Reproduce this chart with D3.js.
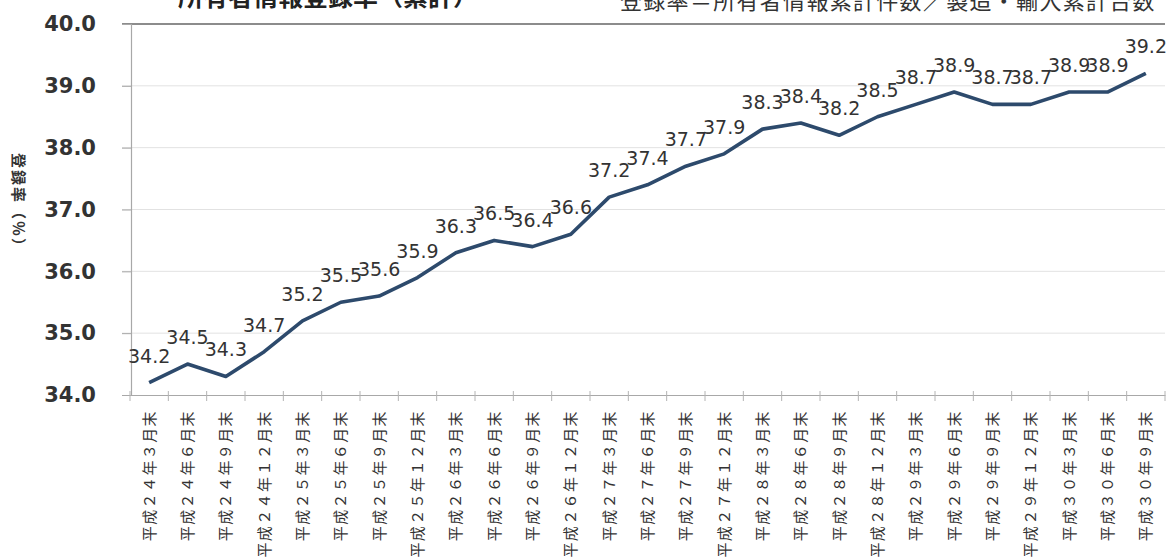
<!DOCTYPE html>
<html>
<head>
<meta charset="utf-8">
<script src="https://cdn.jsdelivr.net/npm/d3@7"></script>
<style>
  html, body { margin: 0; padding: 0; background: #fff; }
  svg { display: block; }
</style>
</head>
<body>
<svg id="chart" width="1173" height="557"></svg>
<script>
// Quarter-end periods
const categories = [
  "平成２４年３月末", "平成２４年６月末", "平成２４年９月末", "平成２４年１２月末",
  "平成２５年３月末", "平成２５年６月末", "平成２５年９月末", "平成２５年１２月末",
  "平成２６年３月末", "平成２６年６月末", "平成２６年９月末", "平成２６年１２月末",
  "平成２７年３月末", "平成２７年６月末", "平成２７年９月末", "平成２７年１２月末",
  "平成２８年３月末", "平成２８年６月末", "平成２８年９月末", "平成２８年１２月末",
  "平成２９年３月末", "平成２９年６月末", "平成２９年９月末", "平成２９年１２月末",
  "平成３０年３月末", "平成３０年６月末", "平成３０年９月末"
];

// Registration rate (%), cumulative
const rates = [
  34.2, 34.5, 34.3, 34.7,
  35.2, 35.5, 35.6, 35.9,
  36.3, 36.5, 36.4, 36.6,
  37.2, 37.4, 37.7, 37.9,
  38.3, 38.4, 38.2, 38.5,
  38.7, 38.9, 38.7, 38.7,
  38.9, 38.9, 39.2
];

const yTickValues = [34, 35, 36, 37, 38, 39, 40];

const titleText = "所有者情報登録率（累計）";
const noteText = "登録率＝所有者情報累計件数／製造・輸入累計台数";
const yAxisTitle = "登録率（％）";

const svg = d3.select("#chart");
const jp = "'Noto Sans CJK JP', 'Noto Sans', sans-serif";

const x = d3.scaleBand().domain(categories).range([130, 1165]).padding(0);
const y = d3.scaleLinear().domain([34, 40]).range([395, 24]);
const cx = d => x(d) + x.bandwidth() / 2;

// Header texts along the top edge of the sheet
svg.append("text")
  .attr("x", 328).attr("y", 6)
  .attr("text-anchor", "middle")
  .attr("font-family", jp)
  .attr("font-weight", "bold")
  .attr("font-size", 25)
  .attr("fill", "#222")
  .text(titleText);

svg.append("text")
  .attr("x", 620).attr("y", 9)
  .attr("font-family", jp)
  .attr("font-size", 22)
  .attr("letter-spacing", "1.3px")
  .attr("fill", "#333")
  .text(noteText);

// Horizontal gridlines
svg.append("g")
  .selectAll("line")
  .data(yTickValues.filter(v => v > 34))
  .join("line")
  .attr("x1", 122).attr("x2", 1165)
  .attr("y1", d => y(d)).attr("y2", d => y(d))
  .attr("stroke", d => d === 40 ? "#8c8c8c" : "#e2e2e2")
  .attr("stroke-width", d => d === 40 ? 2 : 1);

// Y axis
const yAxis = d3.axisLeft(y)
  .tickValues(yTickValues)
  .tickSize(9)
  .tickPadding(26)
  .tickFormat(d3.format(".1f"));

const gy = svg.append("g")
  .attr("transform", "translate(131,0)")
  .call(yAxis);
gy.select(".domain").attr("stroke", "#a8a8a8").attr("stroke-width", 1.2);
gy.selectAll(".tick line").attr("stroke", "#a8a8a8");
gy.selectAll(".tick text")
  .attr("font-family", "'DejaVu Sans', sans-serif")
  .attr("font-weight", "bold")
  .attr("font-size", 21)
  .attr("fill", "#333");

// X axis
const xAxis = d3.axisBottom(x).tickSize(0).tickFormat("");
const gx = svg.append("g")
  .attr("transform", "translate(0,395)")
  .call(xAxis);
gx.select(".domain").attr("stroke", "#a8a8a8").attr("stroke-width", 1.2);

// Tick marks at category boundaries
const bounds = categories.map(c => x(c)).concat([x.range()[1]]);
svg.append("g")
  .selectAll("line")
  .data(bounds)
  .join("line")
  .attr("x1", d => d).attr("x2", d => d)
  .attr("y1", 391).attr("y2", 401)
  .attr("stroke", "#b4b4b4");

// Category labels, rotated
svg.append("g")
  .selectAll("text")
  .data(categories)
  .join("text")
  .attr("transform", d => `translate(${cx(d)},410) rotate(-90)`)
  .attr("text-anchor", "end")
  .attr("dy", "0.36em")
  .attr("font-family", jp)
  .attr("font-size", 15)
  .attr("letter-spacing", "1.4px")
  .attr("fill", "#333")
  .text(d => d);

// Y axis title
svg.append("text")
  .attr("transform", "translate(18,204) rotate(90)")
  .attr("text-anchor", "middle")
  .attr("dy", "0.35em")
  .attr("font-family", jp)
  .attr("font-weight", "bold")
  .attr("font-size", 15)
  .attr("letter-spacing", "2px")
  .attr("fill", "#333")
  .text(yAxisTitle);

// Series line
const line = d3.line()
  .x((d, i) => cx(categories[i]))
  .y(d => y(d));

svg.append("path")
  .datum(rates)
  .attr("d", line)
  .attr("fill", "none")
  .attr("stroke", "#2d4a6c")
  .attr("stroke-width", 3.6)
  .attr("stroke-linejoin", "round");

// Value labels
svg.append("g")
  .selectAll("text")
  .data(rates)
  .join("text")
  .attr("x", (d, i) => cx(categories[i]))
  .attr("y", d => y(d) - 20)
  .attr("text-anchor", "middle")
  .attr("font-family", "'DejaVu Sans', sans-serif")
  .attr("font-size", 19)
  .attr("fill", "#333")
  .text(d => d3.format(".1f")(d));
</script>
</body>
</html>
